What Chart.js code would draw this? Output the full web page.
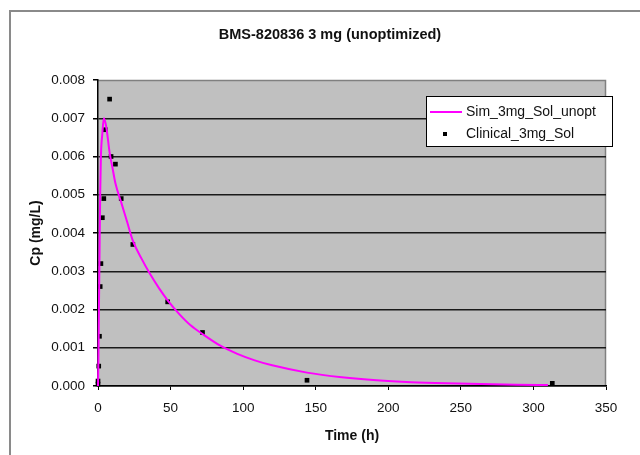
<!DOCTYPE html>
<html>
<head>
<meta charset="utf-8">
<title>BMS-820836 3 mg (unoptimized)</title>
<script src="https://cdn.jsdelivr.net/npm/chart.js@4.4.1/dist/chart.umd.min.js"></script>
<style>
    html, body { margin: 0; padding: 0; background: #ffffff; }
    #wrap { width: 640px; height: 455px; }
</style>
</head>
<body>
<div id="wrap"><canvas id="pkChart" width="640" height="455"></canvas></div>
<script>
// simulated profile (h, mg/L)
const simTimes = [0, 0.25, 0.5, 1, 1.5, 2, 3, 4, 5, 6, 8, 10, 12, 16, 20, 24, 30, 36, 42, 48, 56, 64, 72, 84, 96, 108, 120, 144, 168, 192, 216, 240, 264, 288, 310];
const simConc = [0, 0.0006, 0.0015, 0.0033, 0.0050, 0.0060, 0.0066, 0.0070, 0.0069, 0.0067, 0.0061, 0.0057, 0.0053, 0.0048, 0.0043, 0.0038, 0.00333, 0.00292, 0.00256, 0.00224, 0.00188, 0.00158, 0.00136, 0.00106, 0.00084, 0.00067, 0.00054, 0.00035, 0.00023, 0.00015, 0.0001, 0.00007, 0.00005, 0.000035, 0.000025];

// observed clinical concentrations
const clinTimes = [0, 0, 0.5, 1, 1.5, 2, 3, 4, 5, 8, 9, 12, 16, 24, 48, 72, 144, 313];
const clinConc = [0.00013, 0.00005, 0.00052, 0.0013, 0.0026, 0.0032, 0.0044, 0.0049, 0.0067, 0.0075, 0.0060, 0.0058, 0.0049, 0.0037, 0.0022, 0.0014, 0.00015, 0.00007];

const xTicks = [0, 50, 100, 150, 200, 250, 300, 350];
const yTicks = [0, 0.001, 0.002, 0.003, 0.004, 0.005, 0.006, 0.007, 0.008];

const simLabel = "Sim_3mg_Sol_unopt";
const clinLabel = "Clinical_3mg_Sol";

const FONT = "'Liberation Sans', Arial, sans-serif";
const MAGENTA = "#ff00ff";

const toPoints = (xs, ys) => xs.map((x, i) => ({ x, y: ys[i] }));

// outer frame, gray plot area and its border
const backdrop = {
    id: "backdrop",
    beforeDraw(chart) {
        const { ctx, chartArea: a } = chart;
        ctx.save();
        ctx.strokeStyle = "#8a8a8a";
        ctx.lineWidth = 2;
        ctx.strokeRect(10, 11, 700, 500);
        ctx.fillStyle = "#c0c0c0";
        ctx.fillRect(a.left, a.top, a.right - a.left, a.bottom - a.top);
        ctx.strokeStyle = "#808080";
        ctx.lineWidth = 1.5;
        ctx.beginPath();
        ctx.moveTo(a.left, a.top + 0.5);
        ctx.lineTo(a.right - 0.5, a.top + 0.5);
        ctx.lineTo(a.right - 0.5, a.bottom);
        ctx.stroke();
        ctx.restore();
    }
};

// title centred on the frame rather than the canvas
const shiftTitle = {
    id: "shiftTitle",
    afterLayout(chart) {
        const t = chart.titleBlock;
        t.left = 20;
        t.right = 640;
        t.width = 620;
    }
};

// boxed legend sitting over the top right of the plot
const boxLegend = {
    id: "boxLegend",
    afterDraw(chart) {
        const { ctx } = chart;
        const x = 426.5, y = 96.5, w = 186, h = 50;
        ctx.save();
        ctx.fillStyle = "#ffffff";
        ctx.fillRect(x, y, w, h);
        ctx.strokeStyle = "#000000";
        ctx.lineWidth = 1;
        ctx.strokeRect(x, y, w, h);

        ctx.strokeStyle = MAGENTA;
        ctx.lineWidth = 2;
        ctx.beginPath();
        ctx.moveTo(430, 112);
        ctx.lineTo(462, 112);
        ctx.stroke();

        ctx.fillStyle = "#000000";
        ctx.fillRect(443, 132, 4, 4);

        ctx.font = "14px " + FONT;
        ctx.textBaseline = "middle";
        ctx.textAlign = "left";
        ctx.fillStyle = "#111111";
        ctx.fillText(chart.data.datasets[0].label, 466, 112);
        ctx.fillText(chart.data.datasets[1].label, 466, 134);
        ctx.restore();
    }
};

const ctx = document.getElementById("pkChart").getContext("2d");

new Chart(ctx, {
    type: "scatter",
    data: {
        datasets: [
            {
                label: simLabel,
                data: toPoints(simTimes, simConc),
                showLine: true,
                borderColor: MAGENTA,
                borderWidth: 2,
                pointRadius: 0,
                cubicInterpolationMode: "monotone",
                clip: false
            },
            {
                label: clinLabel,
                data: toPoints(clinTimes, clinConc),
                showLine: false,
                pointStyle: "rect",
                pointRadius: 3.3,
                backgroundColor: "#000000",
                borderWidth: 0,
                clip: false
            }
        ]
    },
    options: {
        responsive: false,
        animation: false,
        layout: { padding: { left: 10, right: 34, top: 0, bottom: 0 } },
        plugins: {
            legend: { display: false },
            tooltip: { enabled: false },
            title: {
                display: true,
                text: "BMS-820836 3 mg (unoptimized)",
                color: "#111111",
                font: { family: FONT, size: 14.5, weight: "bold" },
                padding: { top: 26.3, bottom: 36.3 }
            }
        },
        scales: {
            x: {
                type: "linear",
                min: 0,
                max: 350,
                afterBuildTicks: axis => { axis.ticks = xTicks.map(v => ({ value: v })); },
                afterFit: axis => { axis.height = 69; },
                border: { color: "#000000", width: 1.5 },
                grid: { drawOnChartArea: false, drawTicks: true, tickLength: 4, tickColor: "#000000" },
                ticks: {
                    color: "#111111",
                    padding: 10,
                    font: { family: FONT, size: 13.5 },
                    callback: v => String(v)
                },
                title: {
                    display: true,
                    text: "Time (h)",
                    color: "#111111",
                    font: { family: FONT, size: 14, weight: "bold" },
                    padding: { top: 0, bottom: 10.6 }
                }
            },
            y: {
                type: "linear",
                min: 0,
                max: 0.008,
                afterBuildTicks: axis => { axis.ticks = yTicks.map(v => ({ value: v })); },
                afterFit: axis => { axis.width = 88; },
                border: { color: "#000000", width: 1.5 },
                grid: {
                    color: c => (c.tick && c.tick.value === 0.008 ? "rgba(0,0,0,0)" : "#1a1a1a"),
                    lineWidth: 1.5,
                    drawTicks: true,
                    tickLength: 5,
                    tickColor: "#000000"
                },
                ticks: {
                    color: "#111111",
                    padding: 8,
                    font: { family: FONT, size: 13.5 },
                    callback: v => Number(v).toFixed(3)
                },
                title: {
                    display: true,
                    text: "Cp (mg/L)",
                    color: "#111111",
                    font: { family: FONT, size: 14, weight: "bold" },
                    padding: { top: 18, bottom: 0 }
                }
            }
        }
    },
    plugins: [backdrop, shiftTitle, boxLegend]
});
</script>
</body>
</html>
